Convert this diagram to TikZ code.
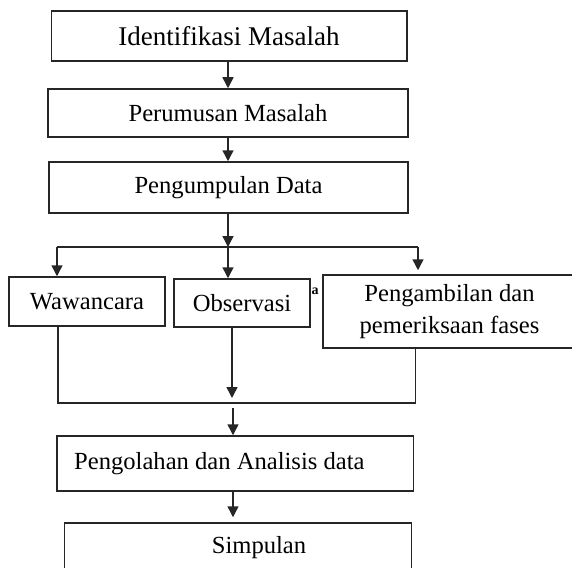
\documentclass[tikz,border=0pt]{standalone}
\usepackage{fontspec}
\setmainfont{Liberation Serif}
\usetikzlibrary{arrows.meta}
\begin{document}
\begin{tikzpicture}[x=1pt,y=-1pt,
  box/.style={draw=black!85, line width=1.5pt, inner sep=0pt, fill=white},
  lbl/.style={font=\fontsize{24.6}{32}\selectfont, inner sep=0pt, align=center},
  conn/.style={draw=black!85, line width=1.5pt},
  arr/.style={conn, -{Triangle[width=11pt,length=11pt]}}]
\useasboundingbox (0,0) rectangle (572,567);
\clip (0,0) rectangle (572,567);
% top chain
\node[box, lbl, minimum width=355.5pt, minimum height=50pt, font=\fontsize{27}{30}\selectfont] (b1) at (229,36) {Identifikasi Masalah};
\node[box, lbl, minimum width=360pt, minimum height=48pt] (b2) at (228,113) {Perumusan Masalah};
\node[box, lbl, minimum width=359pt, minimum height=51pt] (b3) at (228.5,187.5) {Pengumpulan Data};
% stray mark
\node[inner sep=0pt, font=\fontsize{14}{14}\selectfont\bfseries] (stray) at (315,291) {a};
% three methods
\node[box, lbl, minimum width=156pt, minimum height=49pt] (w) at (87,301.5) {Wawancara};
\node[box, lbl, minimum width=136pt, minimum height=48pt] (o) at (242,303) {Observasi};
\node[box, minimum width=300pt, minimum height=73pt] (p) at (473,311.5) {};
\node[lbl] (pt) at (449.5,311.5) {Pengambilan dan\\pemeriksaan fases};
% lower chain
\node[box, minimum width=356.5pt, minimum height=55pt] (b6) at (235,463.5) {};
\node[lbl, anchor=west] (b6t) at (74,463.5) {Pengolahan dan Analisis data};
\node[box, minimum width=347pt, minimum height=74pt] (b7) at (238,560) {};
\node[lbl] (b7t) at (259,548) {Simpulan};
% coordinates
\coordinate (s) at (228,247);
\coordinate (sl) at (57,247);
\coordinate (sr) at (418,247);
\coordinate (jl) at (58,403);
\coordinate (jm) at (233,403);
\coordinate (jr) at (415.5,403);
% connectors
\draw[arr] (b1.south -| s) -- (s |- b2.north);
\draw[arr] (b2.south -| s) -- (s |- b3.north);
\draw[arr] (b3.south -| s) -- (s);
\draw[conn] (sl) -- (sr);
\draw[arr] (sl) -- (sl |- w.north);
\draw[arr] (s) -- (s |- o.north);
\draw[arr, shorten >=4pt] (sr) -- (sr |- p.north);
\draw[conn] (jl |- w.south) -- (jl) -- (jr) -- (jr |- p.south);
\draw[arr, shorten >=5pt] ([xshift=-1pt]jm |- o.south) -- ([xshift=-1pt]jm);
\draw[arr, shorten <=5pt] (jm) -- (jm |- b6.north);
\draw[arr, shorten >=5pt] (jm |- b6.south) -- (jm |- b7.north);
\end{tikzpicture}
\end{document}
